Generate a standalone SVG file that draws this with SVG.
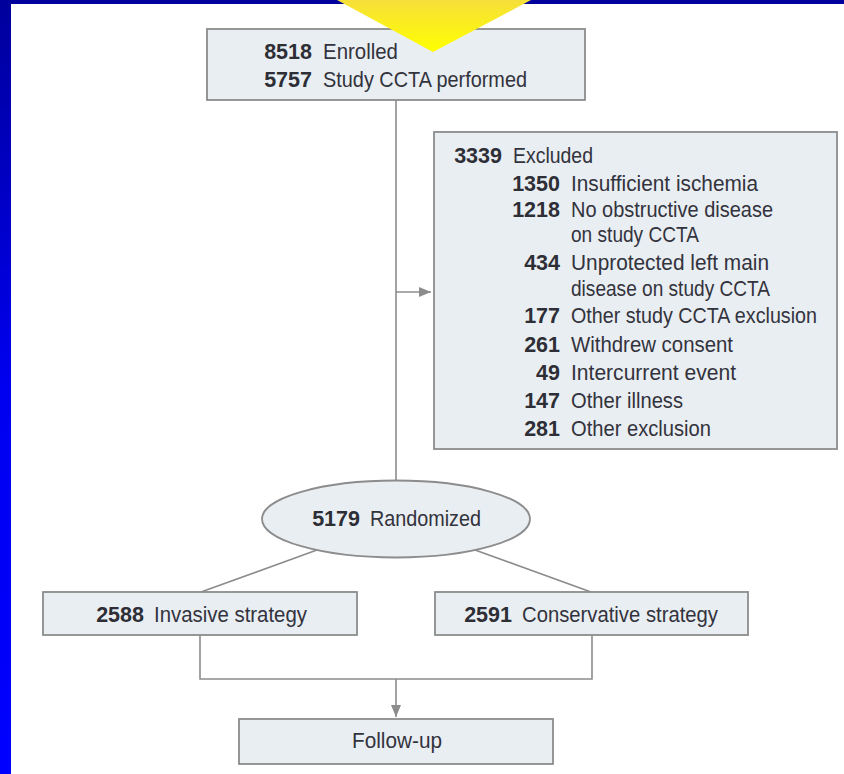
<svg xmlns="http://www.w3.org/2000/svg" width="844" height="774" viewBox="0 0 844 774">
  <style>
    .box { fill: #e9eef2; stroke: #8c8c8c; stroke-width: 1.8; }
    .ln { fill: none; stroke: #8c8c8c; stroke-width: 1.6; }
    .num { font-family: "Liberation Sans", Arial, sans-serif; font-size: 21.5px; font-weight: bold; fill: #2e2e36; text-anchor: end; }
    .lbl { font-family: "Liberation Sans", Arial, sans-serif; font-size: 21.5px; fill: #33333d; }
  </style>
  <defs>
    <linearGradient id="side" x1="0" y1="0" x2="0" y2="1">
      <stop offset="0" stop-color="#00009c"/>
      <stop offset="0.5" stop-color="#0000f0"/>
      <stop offset="1" stop-color="#0000ff"/>
    </linearGradient>
    <linearGradient id="yel" x1="0" y1="0" x2="0" y2="1">
      <stop offset="0" stop-color="#f6df3a"/>
      <stop offset="1" stop-color="#ffff00"/>
    </linearGradient>
    <marker id="arr" viewBox="0 0 12 10" refX="12" refY="5" markerWidth="12" markerHeight="10" markerUnits="userSpaceOnUse" orient="auto">
      <path d="M0,0 L12,5 L0,10 Z" fill="#8c8c8c"/>
    </marker>
  </defs>

  <rect x="0" y="0" width="844" height="774" fill="#ffffff"/>
  <rect x="0" y="0" width="844" height="4" fill="#00009c"/>
  <rect x="0" y="0" width="11" height="774" fill="url(#side)"/>

  <g id="connectors">
    <line class="ln" x1="396" y1="100" x2="396" y2="481"/>
    <line class="ln" x1="396" y1="292" x2="431" y2="292" marker-end="url(#arr)"/>
    <line class="ln" x1="317" y1="550" x2="201" y2="592"/>
    <line class="ln" x1="475" y1="550" x2="591" y2="592"/>
    <polyline class="ln" points="200,635 200,679 592,679 592,635"/>
    <line class="ln" x1="396" y1="679" x2="396" y2="717" marker-end="url(#arr)"/>
  </g>

  <g id="enrolled">
    <rect class="box" x="207" y="29" width="378" height="71"/>
    <text class="num" x="312" y="59">8518</text>
    <text class="lbl" x="323" y="59" textLength="75" lengthAdjust="spacingAndGlyphs">Enrolled</text>
    <text class="num" x="312" y="87">5757</text>
    <text class="lbl" x="323" y="87" textLength="204" lengthAdjust="spacingAndGlyphs">Study CCTA performed</text>
  </g>

  <g id="excluded">
    <rect class="box" x="434" y="132" width="403" height="317"/>
    <text class="num" x="502" y="163">3339</text>
    <text class="lbl" x="513" y="163" textLength="80" lengthAdjust="spacingAndGlyphs">Excluded</text>
    <text class="num" x="560" y="191">1350</text>
    <text class="lbl" x="571" y="191" textLength="187" lengthAdjust="spacingAndGlyphs">Insufficient ischemia</text>
    <text class="num" x="560" y="217">1218</text>
    <text class="lbl" x="571" y="217" textLength="202" lengthAdjust="spacingAndGlyphs">No obstructive disease</text>
    <text class="lbl" x="571" y="242" textLength="128" lengthAdjust="spacingAndGlyphs">on study CCTA</text>
    <text class="num" x="560" y="270">434</text>
    <text class="lbl" x="571" y="270" textLength="198" lengthAdjust="spacingAndGlyphs">Unprotected left main</text>
    <text class="lbl" x="571" y="296" textLength="199" lengthAdjust="spacingAndGlyphs">disease on study CCTA</text>
    <text class="num" x="560" y="323">177</text>
    <text class="lbl" x="571" y="323" textLength="246" lengthAdjust="spacingAndGlyphs">Other study CCTA exclusion</text>
    <text class="num" x="560" y="352">261</text>
    <text class="lbl" x="571" y="352" textLength="162" lengthAdjust="spacingAndGlyphs">Withdrew consent</text>
    <text class="num" x="560" y="380">49</text>
    <text class="lbl" x="571" y="380" textLength="165" lengthAdjust="spacingAndGlyphs">Intercurrent event</text>
    <text class="num" x="560" y="408">147</text>
    <text class="lbl" x="571" y="408" textLength="112" lengthAdjust="spacingAndGlyphs">Other illness</text>
    <text class="num" x="560" y="436">281</text>
    <text class="lbl" x="571" y="436" textLength="140" lengthAdjust="spacingAndGlyphs">Other exclusion</text>
  </g>

  <g id="randomized">
    <ellipse class="box" cx="396" cy="519" rx="134" ry="38.5"/>
    <text class="num" x="360" y="526">5179</text>
    <text class="lbl" x="370" y="526" textLength="111" lengthAdjust="spacingAndGlyphs">Randomized</text>
  </g>

  <g id="invasive">
    <rect class="box" x="43" y="592" width="314" height="43"/>
    <text class="num" x="144" y="622">2588</text>
    <text class="lbl" x="154" y="622" textLength="153" lengthAdjust="spacingAndGlyphs">Invasive strategy</text>
  </g>

  <g id="conservative">
    <rect class="box" x="435" y="592" width="313" height="43"/>
    <text class="num" x="512" y="622">2591</text>
    <text class="lbl" x="522" y="622" textLength="196" lengthAdjust="spacingAndGlyphs">Conservative strategy</text>
  </g>

  <g id="followup">
    <rect class="box" x="239" y="719" width="314" height="45"/>
    <text class="lbl" x="352" y="748" textLength="90" lengthAdjust="spacingAndGlyphs">Follow-up</text>
  </g>

  <g id="pointer">
    <polygon points="337,0 531,0 433,52" fill="url(#yel)"/>
  </g>
</svg>
